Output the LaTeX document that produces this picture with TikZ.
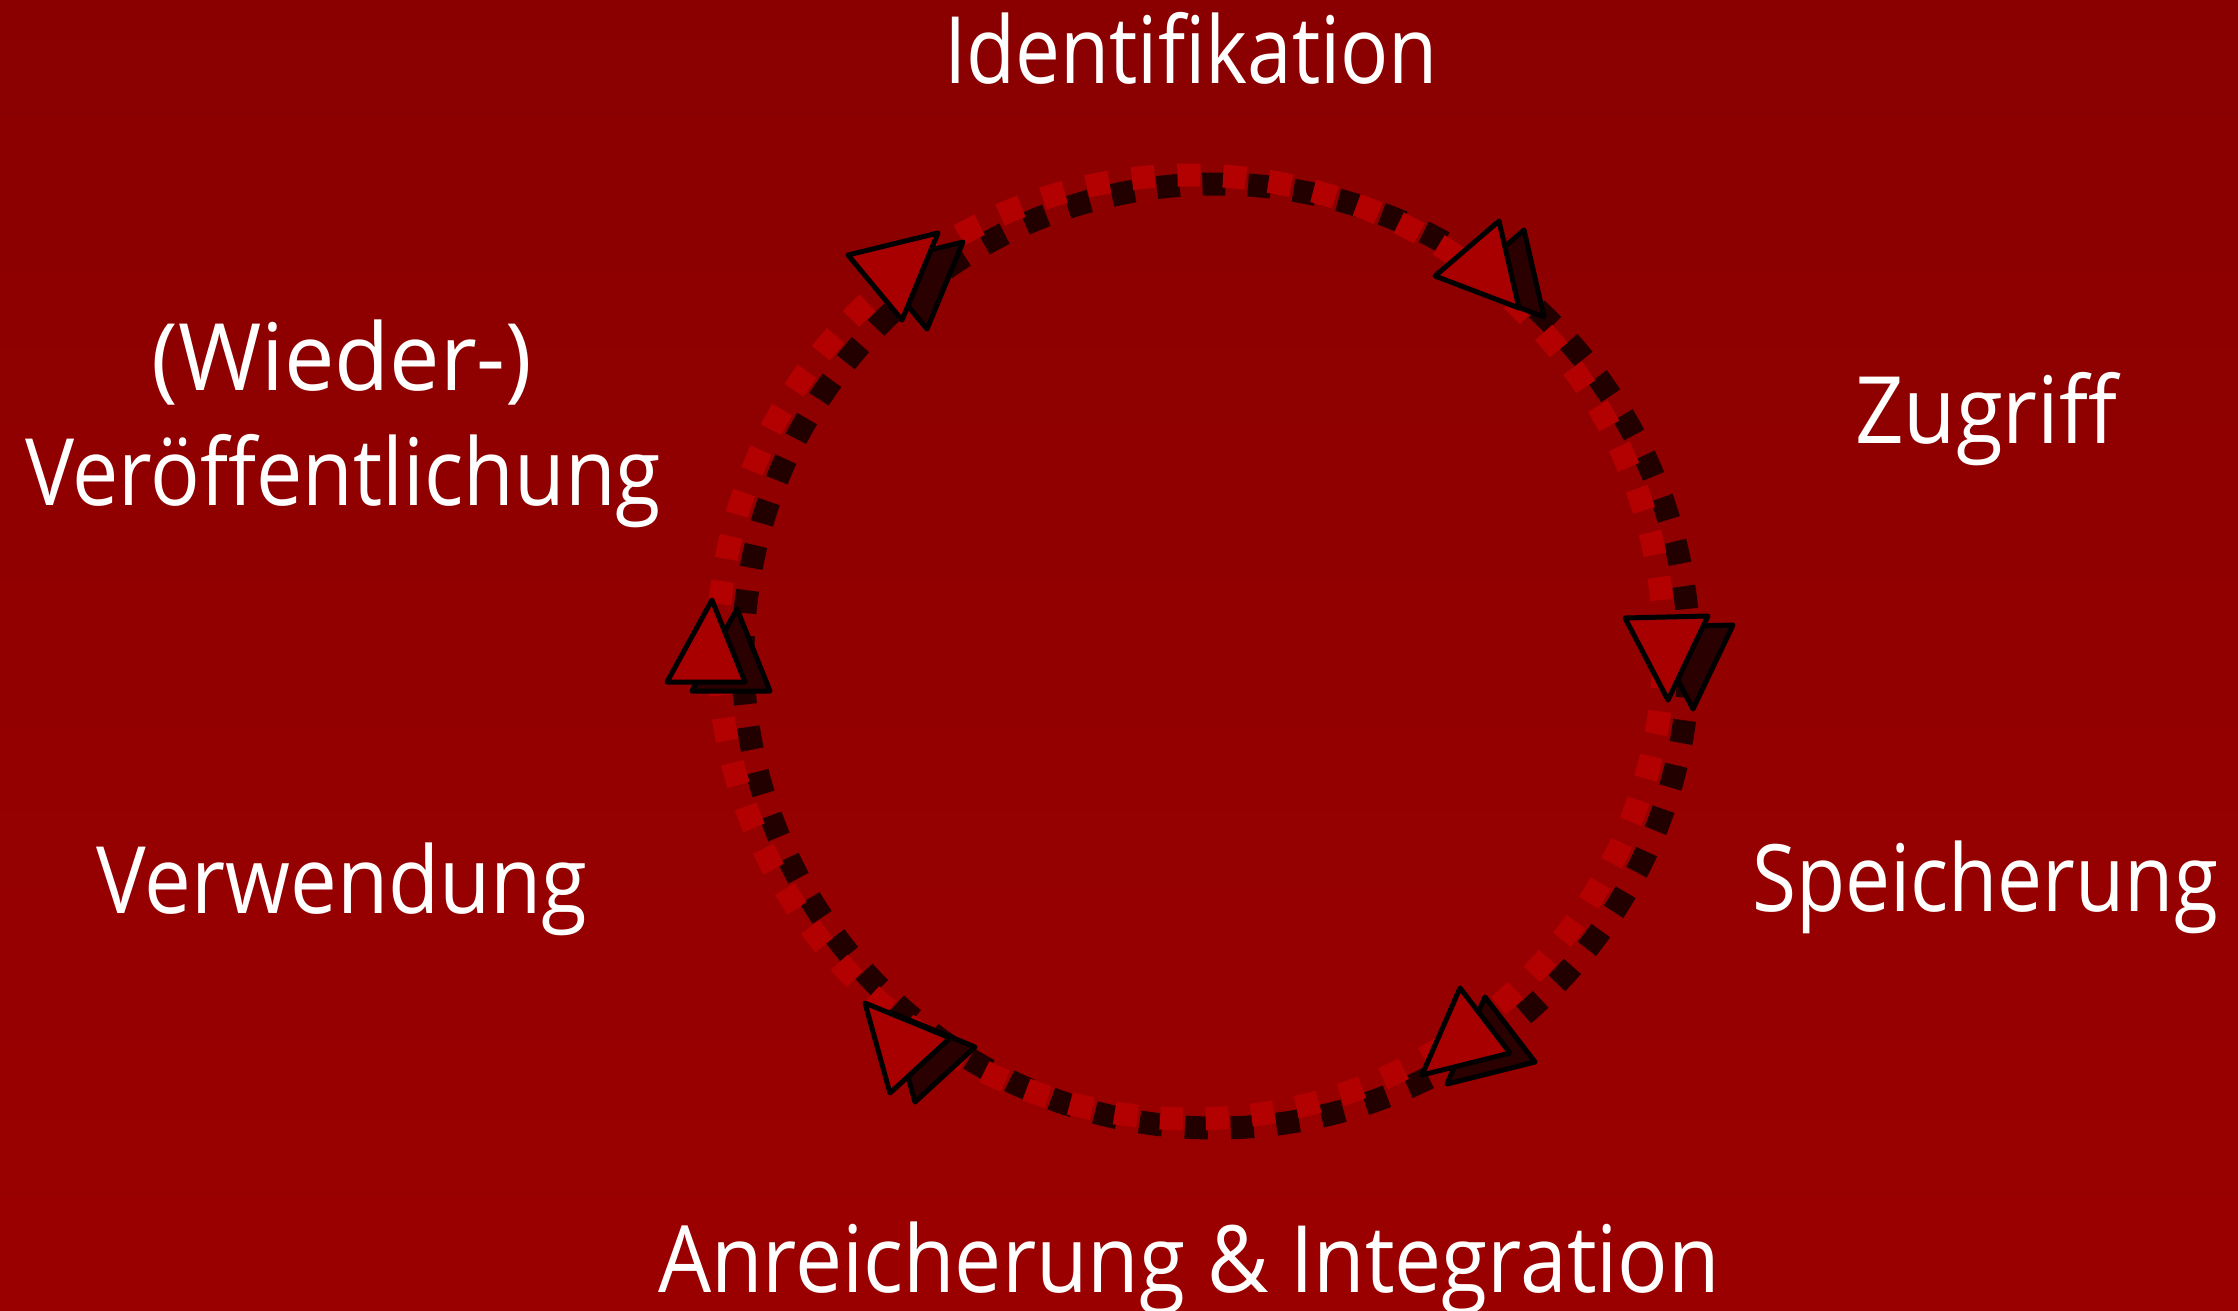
\documentclass[tikz,border=0pt]{standalone}
\usepackage{fontspec}
\setmainfont{Open Sans}
\usepackage{graphicx}
\definecolor{bgtop}{HTML}{8A0000}
\definecolor{bgbot}{HTML}{9B0000}
\definecolor{dotred}{HTML}{B30000}
\definecolor{dotdark}{HTML}{220000}
\definecolor{arrowfill}{HTML}{A80000}
\definecolor{shadowfill}{HTML}{2A0000}
\newlength\lblw
\newcommand\fitw[2]{\settowidth\lblw{#2}\pgfmathsetmacro\lblr{#1/\lblw}\scalebox{\lblr}[1]{#2}}
\tikzset{
  lbl/.style={text=white, inner sep=0pt, anchor=base, font=\fontsize{93}{110}\selectfont},
  ring/.style={line width=23pt, dash pattern=on 23pt off 22.72pt, dash phase=26.94pt},
  tri/.style={line width=5pt, line join=round, draw=black},
  mainfill/.style={tri, fill=arrowfill},
  shadowtri/.style={tri, fill=shadowfill},
}
\begin{document}
\begin{tikzpicture}[x=1pt,y=-1pt]
\useasboundingbox (0,0) rectangle (2238,1311);
\shade[top color=bgtop,bottom color=bgbot] (0,0) rectangle (2238,1311);
\coordinate (c) at (1191,647);
% ring: shadow then main
\draw[ring, dotdark] ([shift={(25,9)}]c) ellipse [x radius=473, y radius=472];
\draw[ring, dotred] (c) ellipse [x radius=473, y radius=472];
% shadow triangles
\begin{scope}[shift={(25,9)}]
\draw[shadowtri] (1625,618) -- (1708,616) -- (1668,700) -- cycle;
\draw[shadowtri] (1435,276) -- (1499,221) -- (1519,308) -- cycle;
\draw[shadowtri] (848,255) -- (938,233) -- (902,320) -- cycle;
\draw[shadowtri] (712,600) -- (667,682) -- (745,682) -- cycle;
\draw[shadowtri] (865,1003) -- (950,1038) -- (890,1093) -- cycle;
\draw[shadowtri] (1460,988) -- (1510,1053) -- (1422,1075) -- cycle;
\end{scope}
% main triangles
\draw[mainfill] (1625,618) -- (1708,616) -- (1668,700) -- cycle;
\draw[mainfill] (1435,276) -- (1499,221) -- (1519,308) -- cycle;
\draw[mainfill] (848,255) -- (938,233) -- (902,320) -- cycle;
\draw[mainfill] (712,600) -- (667,682) -- (745,682) -- cycle;
\draw[mainfill] (865,1003) -- (950,1038) -- (890,1093) -- cycle;
\draw[mainfill] (1460,988) -- (1510,1053) -- (1422,1075) -- cycle;
% labels
\node[lbl] (ident) at (1191,84) {\fitw{494}{Identifikation}};
\node[lbl] (zugriff) at (1986,443) {\fitw{262}{Zugriff}};
\node[lbl] (speich) at (1985,911) {\fitw{466}{Speicherung}};
\node[lbl] (anreich) at (1189,1292) {\fitw{1062}{Anreicherung \& Integration}};
\node[lbl] (verw) at (342,913) {\fitw{491}{Verwendung}};
\node[lbl] (wieder) at (342,390) {\fitw{381}{(Wieder-)}};
\node[lbl] (veroeff) at (343,505) {\fitw{636}{Veröffentlichung}};
\end{tikzpicture}
\end{document}
